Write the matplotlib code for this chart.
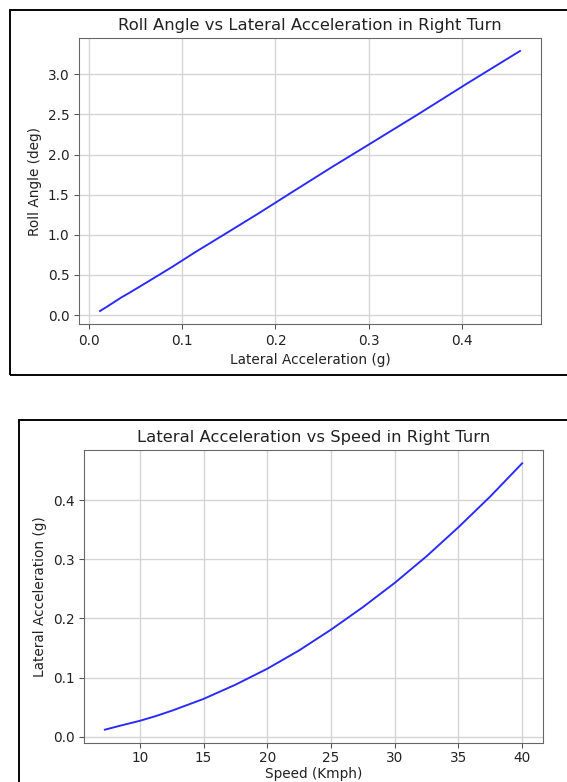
import matplotlib.pyplot as plt
from matplotlib.patches import Rectangle

# data
speed = [7.25, 8.5, 10, 11.25, 12.5, 15, 17.5, 20, 22.5, 25, 27.5, 30, 32.5, 35, 37.5, 40]
lat_acc = [0.012, 0.019, 0.027, 0.035, 0.044, 0.064, 0.088, 0.115, 0.146, 0.181,
           0.219, 0.260, 0.305, 0.354, 0.406, 0.462]
roll_angle = [0.05, 0.10, 0.16, 0.22, 0.28, 0.42, 0.59, 0.79, 1.01, 1.26,
              1.54, 1.84, 2.16, 2.51, 2.89, 3.29]

W, H = 567, 782
DPI = 98
fig = plt.figure(figsize=(W / DPI, H / DPI), dpi=DPI)

def px_axes(left, top, right, bottom):
    return fig.add_axes([left / W, 1 - bottom / H, (right - left) / W, (bottom - top) / H])

# frames around the two screenshots
fig.patches.append(Rectangle((10 / W, 1 - 374.5 / H), 600 / W, 365 / H,
                             transform=fig.transFigure, fill=False,
                             edgecolor='black', linewidth=1.4))
fig.patches.append(Rectangle((19 / W, 1 - 820 / H), 600 / W, 400 / H,
                             transform=fig.transFigure, fill=False,
                             edgecolor='black', linewidth=1.4))

def style(ax):
    ax.grid(True, color='#d4d4d4', linewidth=1.0)
    for s in ax.spines.values():
        s.set_color('#666666')
    ax.tick_params(color='#555555', labelcolor='#222222')

# top: roll angle vs lateral acceleration
ax1 = px_axes(79, 38, 541, 324)
ax1.plot(lat_acc, roll_angle, color='#2a2aff', linewidth=1.4)
ax1.set_title('Roll Angle vs Lateral Acceleration in Right Turn', color='#222222')
ax1.set_xlabel('Lateral Acceleration (g)', color='#222222')
ax1.set_ylabel('Roll Angle (deg)', color='#222222')
style(ax1)

# bottom: lateral acceleration vs speed
ax2 = px_axes(84, 450, 543, 743)
ax2.plot(speed, lat_acc, color='#2a2aff', linewidth=1.4)
ax2.set_title('Lateral Acceleration vs Speed in Right Turn', color='#222222')
ax2.set_xlabel('Speed (Kmph)', color='#222222', labelpad=1)
ax2.set_ylabel('Lateral Acceleration (g)', color='#222222')
ax2.tick_params(axis='x', pad=2.5)
style(ax2)

fig.savefig('out.png', dpi=DPI)
